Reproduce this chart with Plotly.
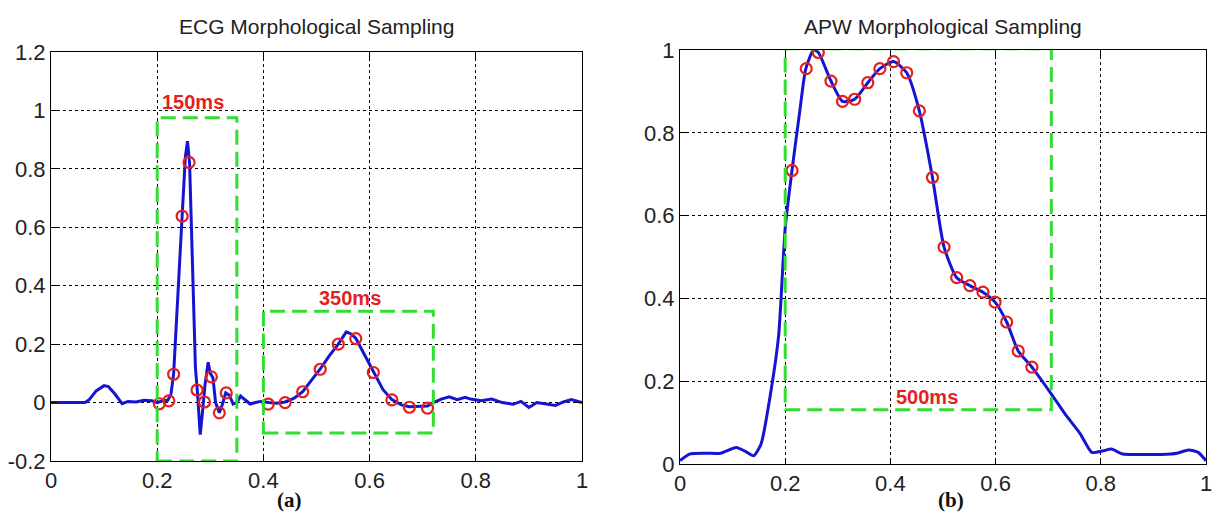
import plotly.graph_objects as go

# ---------------- data ----------------
ecg_t = [0, 0.064, 0.072, 0.085, 0.1, 0.108, 0.12, 0.134, 0.145, 0.16, 0.175, 0.19, 0.2, 0.21,
         0.22, 0.226, 0.231, 0.24, 0.247, 0.253, 0.257, 0.261, 0.266, 0.272, 0.276, 0.281, 0.286,
         0.29, 0.296, 0.3, 0.305, 0.31, 0.317, 0.323, 0.329, 0.336, 0.343, 0.35, 0.357, 0.365,
         0.375, 0.385, 0.395, 0.41, 0.425, 0.441, 0.458, 0.474, 0.49, 0.507, 0.524, 0.541, 0.556,
         0.565, 0.574, 0.59, 0.607, 0.625, 0.642, 0.66, 0.675, 0.69, 0.709, 0.72, 0.735, 0.75,
         0.765, 0.78, 0.79, 0.81, 0.83, 0.85, 0.87, 0.885, 0.9, 0.915, 0.93, 0.95, 0.965, 0.98, 1.0]
ecg_v = [0, 0, 0.01, 0.04, 0.058, 0.055, 0.03, -0.004, 0.004, 0.002, 0.008, 0.006, 0.0, 0.006,
         0.008, 0.03, 0.1, 0.38, 0.64, 0.84, 0.895, 0.82, 0.5, 0.12, 0.03, -0.11, -0.02,
         0.06, 0.138, 0.1, 0.085, 0.0, -0.035, -0.005, 0.033, 0.025, -0.005, 0.0, 0.022, 0.01,
         -0.005, 0.0, 0.004, 0.0, -0.002, 0.002, 0.015, 0.037, 0.075, 0.115, 0.16, 0.2, 0.242,
         0.235, 0.22, 0.165, 0.103, 0.045, 0.01, -0.008, -0.014, -0.012, -0.012, 0.0, 0.012, 0.02,
         0.01, 0.018, 0.012, 0.006, 0.012, 0.0, -0.006, 0.004, -0.017, 0.0, -0.005, -0.01, 0.002, 0.01, 0.0]

ecg_sample_t = [0.204, 0.222, 0.231, 0.247, 0.26, 0.275, 0.289, 0.302, 0.317, 0.33,
                0.409, 0.441, 0.474, 0.507, 0.541, 0.574, 0.607, 0.642, 0.675, 0.709]
ecg_sample_v = [-0.004, 0.006, 0.097, 0.638, 0.822, 0.043, 0.002, 0.088, -0.035, 0.033,
                -0.005, 0.0, 0.037, 0.114, 0.2, 0.219, 0.103, 0.009, -0.016, -0.019]

apw_t = [0, 0.018, 0.05, 0.077, 0.107, 0.125, 0.14, 0.154, 0.173, 0.1875, 0.2, 0.213, 0.228,
         0.239, 0.254, 0.263, 0.287, 0.309, 0.332, 0.357, 0.38, 0.406, 0.431, 0.455, 0.48,
         0.502, 0.526, 0.551, 0.576, 0.599, 0.621, 0.643, 0.669, 0.706, 0.732, 0.761, 0.783,
         0.805, 0.82, 0.842, 0.879, 0.915, 0.945, 0.967, 0.985, 1.0]
apw_v = [0.008, 0.024, 0.026, 0.026, 0.04, 0.03, 0.02, 0.048, 0.177, 0.31, 0.57, 0.71, 0.855,
         0.954, 1.0, 0.994, 0.925, 0.876, 0.881, 0.921, 0.955, 0.972, 0.945, 0.853, 0.692,
         0.524, 0.45, 0.431, 0.415, 0.391, 0.343, 0.273, 0.234, 0.169, 0.121, 0.073, 0.028,
         0.032, 0.036, 0.024, 0.023, 0.023, 0.026, 0.034, 0.028, 0.008]

apw_sample_t = [0.213, 0.24, 0.263, 0.287, 0.309, 0.332, 0.357, 0.38, 0.406, 0.431,
                0.455, 0.48, 0.502, 0.526, 0.551, 0.576, 0.599, 0.621, 0.643, 0.669]
apw_sample_v = [0.709, 0.955, 0.994, 0.925, 0.876, 0.881, 0.921, 0.955, 0.972, 0.945,
                0.853, 0.692, 0.524, 0.45, 0.431, 0.415, 0.391, 0.343, 0.273, 0.234]

# windows: (x0, x1, y0, y1)
ecg_qrs_window = [0.2, 0.35, -0.2, 0.975]
ecg_t_window = [0.4, 0.72, -0.104, 0.313]
apw_window = [0.2, 0.706, 0.131, 1.003]

x_ticks = [0, 0.2, 0.4, 0.6, 0.8, 1]
x_tick_text = ["0", "0.2", "0.4", "0.6", "0.8", "1"]
ecg_y_ticks = [-0.2, 0, 0.2, 0.4, 0.6, 0.8, 1, 1.2]
ecg_y_tick_text = ["-0.2", "0", "0.2", "0.4", "0.6", "0.8", "1", "1.2"]
apw_y_ticks = [0, 0.2, 0.4, 0.6, 0.8, 1]
apw_y_tick_text = ["0", "0.2", "0.4", "0.6", "0.8", "1"]

titles = ["ECG Morphological Sampling", "APW Morphological Sampling"]
window_labels = ["150ms", "350ms", "500ms"]
panel_labels = ["(a)", "(b)"]

# ---------------- styling ----------------
W, H = 1215, 513
BLUE = "#1414d2"
RED = "#e41f1f"
GREEN = "#33dd33"
TICK_FONT = dict(family="Liberation Sans, Arial", size=22, color="#222")


def px_x(p):
    return p / W


def px_y(p):
    return 1 - p / H


L_dom_x = [px_x(51), px_x(582)]
L_dom_y = [px_y(461), px_y(52)]
R_dom_x = [px_x(680), px_x(1206)]
R_dom_y = [px_y(464), px_y(50)]

fig = go.Figure()

fig.add_trace(go.Scatter(x=ecg_t, y=ecg_v, mode="lines", line=dict(color=BLUE, width=3),
                         xaxis="x", yaxis="y", showlegend=False))
fig.add_trace(go.Scatter(x=ecg_sample_t, y=ecg_sample_v, mode="markers",
                         marker=dict(symbol="circle-open", size=11, color=RED, line=dict(width=2.2)),
                         xaxis="x", yaxis="y", showlegend=False))
fig.add_trace(go.Scatter(x=apw_t, y=apw_v, mode="lines", line=dict(color=BLUE, width=3, shape="spline", smoothing=0.6),
                         xaxis="x2", yaxis="y2", showlegend=False))
fig.add_trace(go.Scatter(x=apw_sample_t, y=apw_sample_v, mode="markers",
                         marker=dict(symbol="circle-open", size=11, color=RED, line=dict(width=2.2)),
                         xaxis="x2", yaxis="y2", showlegend=False))

shapes = []
for (x0, x1, y0, y1), xr, yr in [(ecg_qrs_window, "x", "y"), (ecg_t_window, "x", "y"), (apw_window, "x2", "y2")]:
    shapes.append(dict(type="rect", xref=xr, yref=yr, x0=x0, x1=x1, y0=y0, y1=y1,
                       line=dict(color=GREEN, width=3, dash="15px,7px"), layer="above"))

axis_common = dict(showline=True, linecolor="black", linewidth=1, mirror="ticks",
                   ticks="inside", ticklen=6, tickcolor="black", tickwidth=1,
                   showgrid=True, gridcolor="black", gridwidth=1, griddash="dot",
                   zeroline=False, tickfont=TICK_FONT, fixedrange=True, automargin=False)

fig.update_layout(
    width=W, height=H,
    margin=dict(l=0, r=0, t=0, b=0),
    paper_bgcolor="white", plot_bgcolor="white",
    showlegend=False,
    shapes=shapes,
    xaxis=dict(domain=L_dom_x, range=[0, 1], anchor="y", tickvals=x_ticks, ticktext=x_tick_text, **axis_common),
    yaxis=dict(domain=L_dom_y, range=[-0.2, 1.2], anchor="x", tickvals=ecg_y_ticks, ticktext=ecg_y_tick_text, **axis_common),
    xaxis2=dict(domain=R_dom_x, range=[0, 1], anchor="y2", tickvals=x_ticks, ticktext=x_tick_text, **axis_common),
    yaxis2=dict(domain=R_dom_y, range=[0, 1], anchor="x2", tickvals=apw_y_ticks, ticktext=apw_y_tick_text, **axis_common),
)

title_font = dict(family="Liberation Sans, Arial", size=21, color="#222")
fig.add_annotation(text=titles[0], xref="paper", yref="paper", x=(L_dom_x[0] + L_dom_x[1]) / 2, y=px_y(27),
                   showarrow=False, font=title_font, xanchor="center", yanchor="middle")
fig.add_annotation(text=titles[1], xref="paper", yref="paper", x=(R_dom_x[0] + R_dom_x[1]) / 2, y=px_y(27),
                   showarrow=False, font=title_font, xanchor="center", yanchor="middle")

label_font = dict(family="Liberation Sans, Arial", size=20, color=RED, weight="bold")
fig.add_annotation(text=window_labels[0], xref="x", yref="y", x=0.267, y=1.03, showarrow=False,
                   font=label_font, xanchor="center", yanchor="middle")
fig.add_annotation(text=window_labels[1], xref="x", yref="y", x=0.564, y=0.358, showarrow=False,
                   font=label_font, xanchor="center", yanchor="middle")
fig.add_annotation(text=window_labels[2], xref="x2", yref="y2", x=0.469, y=0.162, showarrow=False,
                   font=label_font, xanchor="center", yanchor="middle")

panel_font = dict(family="Liberation Serif, Times New Roman", size=21, color="#111", weight="bold")
fig.add_annotation(text=panel_labels[0], xref="paper", yref="paper", x=px_x(289), y=px_y(500), showarrow=False,
                   font=panel_font, xanchor="center", yanchor="middle")
fig.add_annotation(text=panel_labels[1], xref="paper", yref="paper", x=px_x(951), y=px_y(500), showarrow=False,
                   font=panel_font, xanchor="center", yanchor="middle")

fig.write_html("out.html", config={"displayModeBar": False},
               post_script="document.body.style.margin='0';document.body.style.overflow='hidden';")
